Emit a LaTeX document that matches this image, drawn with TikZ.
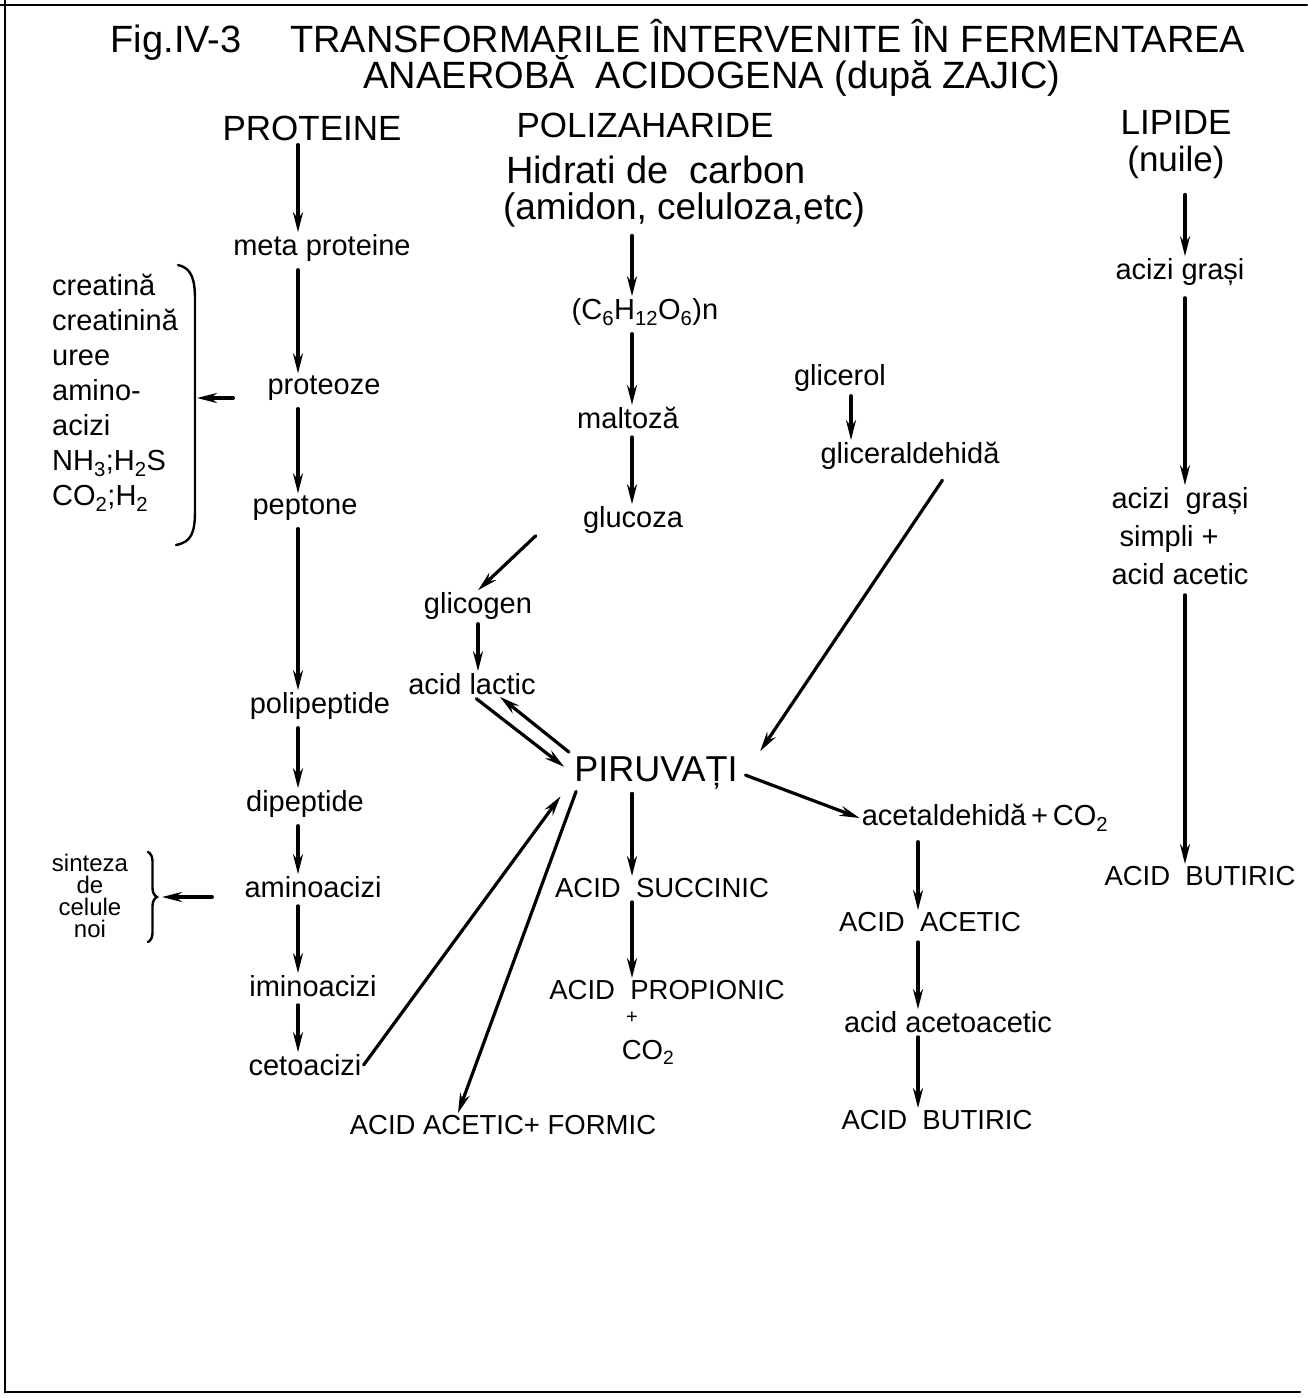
\documentclass[tikz,border=0pt]{standalone}
\usepackage{fontspec}
\setmainfont{Liberation Sans}
\usetikzlibrary{arrows.meta,positioning,decorations.pathreplacing}
\tikzstyle{ttl}=[inner sep=1pt, font=\fontsize{38}{42}\selectfont]
\tikzstyle{hd}=[inner sep=2pt, font=\fontsize{35}{40}\selectfont]
\tikzstyle{lb}=[inner sep=2pt, font=\fontsize{29}{32}\selectfont]
\tikzstyle{cp}=[inner sep=2pt, font=\fontsize{27.5}{30}\selectfont]
\tikzstyle{ar}=[-{Stealth[length=20pt,width=10pt]}, line width=3.2pt]

\begin{document}
\begin{tikzpicture}
 [x=1pt, y=-1pt, line cap=round]
 \useasboundingbox (0,0) rectangle (1307,1398);
 % frame
 \draw[line width=2.4pt] (0,5) -- (1307,5);
 \draw[line width=2.4pt] (5,0) -- (5,1392) -- (1300,1392);
 % title
 \node[ttl] (t1) at (678,40) {Fig.IV-3\quad\ TRANSFORMARILE ÎNTERVENITE ÎN FERMENTAREA};
 \node[ttl] (t2) at (712,76) {ANAEROBĂ\ \ ACIDOGENA (după ZAJIC)};
 % column heads
 \node[hd] (prot) at (312,128) {PROTEINE};
 \node[hd] (poli) at (645,125) {POLIZAHARIDE};
 \node[hd, font=\fontsize{38}{40}\selectfont] (hidr) at (656,170) {Hidrati de\ \ carbon};
 \node[hd, font=\fontsize{37}{40}\selectfont] (amid) at (684,210) {(amidon, celuloza,etc)};
 \node[hd] (lip) at (1176,122) {LIPIDE};
 \node[hd] (nuile) at (1176,162) {(nuile)};
 % column axes
 \coordinate (xp) at (298,0);
 \coordinate (xm) at (632,0);
 \coordinate (xg) at (851,0);
 \coordinate (xa) at (918,0);
 \coordinate (xl) at (1185,0);
 % proteine
 \node[lb] (meta) at (322,248) {meta proteine};
 \node[lb] (pteo) at (324,388) {proteoze};
 \node[lb] (pept) at (305,508) {peptone};
 \node[lb] (polip) at (320,706) {polipeptide};
 \node[lb] (dip) at (305,804) {dipeptide};
 \node[lb] (amac) at (313,887) {aminoacizi};
 \node[lb] (imac) at (313,986) {iminoacizi};
 \node[lb] (ceto) at (305,1065) {cetoacizi};
 \path[ar]
   (prot.south -| xp) edge[shorten <=2pt] (meta.north -| xp)
   (meta.south -| xp) edge[shorten <=6pt] (pteo.north -| xp)
   (pteo.south -| xp) edge[shorten <=6pt] (pept.north -| xp)
   (pept.south -| xp) edge[shorten <=6pt] (polip.north -| xp)
   (polip.south -| xp) edge[shorten <=6pt] (dip.north -| xp)
   (dip.south -| xp) edge[shorten <=6pt] (amac.north -| xp)
   (amac.south -| xp) edge[shorten <=6pt] (imac.north -| xp)
   (imac.south -| xp) edge[shorten <=6pt] (ceto.north -| xp);
 % side products
 \node[lb, anchor=north west, align=left, font=\fontsize{29}{35}\selectfont]
   (prod) at (50,272) {creatină\\creatinină\\uree\\amino-\\acizi\\NH\textsubscript{3};H\textsubscript{2}S\\CO\textsubscript{2};H\textsubscript{2}};
 \draw[line width=2.4pt] (178,265) .. controls (192,268) and (195,280) .. (195,300)
   -- (195,510) .. controls (195,532) and (192,542) .. (176,545);
 \coordinate (brk) at (197,398);
 \draw[ar] (pteo.west |- brk) ++(-32,0) -- (brk);
 \node[lb, align=center, font=\fontsize{24}{22}\selectfont] (sint) at (90,896) {sinteza\\de\\celule\\noi};
 \draw[line width=2.4pt, decorate, decoration={brace, amplitude=9pt}] (148,852) -- (148,942);
 \coordinate (brs) at (162,897);
 \draw[ar] (amac.west |- brs) ++(-30,0) -- (brs);
 % polizaharide
 \node[lb] (hex) at (645,312) {(C\textsubscript{6}H\textsubscript{12}O\textsubscript{6})n};
 \node[lb] (malt) at (628,418) {maltoză};
 \node[lb] (gluc) at (633,520) {glucoza};
 \node[lb] (glic) at (478,606) {glicogen};
 \node[lb] (lact) at (472,684) {acid lactic};
 \path[ar]
   (amid.south -| xm) edge[shorten <=6pt] (hex.north -| xm)
   (hex.south -| xm) edge[shorten <=6pt] (malt.north -| xm)
   (malt.south -| xm) edge[shorten <=6pt] (gluc.north -| xm)
   ([xshift=-45pt]gluc.south west) edge (glic.north)
   (glic.south) edge[shorten <=2pt] (glic.south |- lact.north);
 % piruvati
 \node[inner sep=2pt, font=\fontsize{36}{40}\selectfont] (piruv) at (656,773) {PIRUVAȚI};
 \node[cp] (form) at (503,1125) {ACID ACETIC+ FORMIC};
 \path[ar]
   ([xshift=2pt]lact.south) edge[shorten <=3pt, shorten >=10pt] (piruv.west)
   (piruv.north west) edge[shorten <=4pt] ([xshift=28pt]lact.south)
   (ceto.east) edge[shorten >=6pt] ([xshift=-8pt]piruv.south west)
   ([xshift=4pt]piruv.south west) edge ([xshift=-45pt]form.north);
 % glicerol
 \node[lb] (gol) at (840,378) {glicerol};
 \node[lb] (gald) at (910,456) {gliceraldehidă};
 \path[ar]
   (gol.south -| xg) edge[shorten <=2pt] (gald.north -| xg)
   ([xshift=38pt]gald.south) edge[shorten <=10pt, shorten >=4pt] ([xshift=18pt]piruv.north east);
 % succinic
 \node[cp] (succ) at (662,888) {ACID\ \ SUCCINIC};
 \node[cp] (prop) at (667,990) {ACID\ \ PROPIONIC};
 \node[lb, inner sep=0pt, font=\fontsize{20}{20}\selectfont] (plus) at (632,1018) {+};
 \node[cp] (co2) at (648,1052) {CO\textsubscript{2}};
 \path[ar]
   (piruv.south -| xm) edge[shorten <=2pt] (succ.north -| xm)
   (succ.south -| xm) edge[shorten <=2pt] (prop.north -| xm);
 % acetaldehida
 \node[lb] (acal) at (985,818) {acetaldehidă\,+\,CO\textsubscript{2}};
 \node[cp] (acet) at (930,922) {ACID\ \ ACETIC};
 \node[lb] (acac) at (948,1022) {acid acetoacetic};
 \node[cp] (but) at (937,1120) {ACID\ \ BUTIRIC};
 \path[ar]
   (piruv.east) edge[shorten <=6pt] (acal.west)
   (acal.south -| xa) edge[shorten <=8pt] (acet.north -| xa)
   (acet.south -| xa) edge[shorten <=8pt] (acac.north -| xa)
   (acac.south -| xa) edge[shorten <=2pt] (but.north -| xa);
 % lipide
 \node[lb] (agr) at (1180,272) {acizi grași};
 \node[lb, align=left, font=\fontsize{29}{38}\selectfont] (agrs) at (1180,536) {acizi\ \ grași\\\ simpli +\\acid acetic};
 \node[cp] (butl) at (1200,876) {ACID\ \ BUTIRIC};
 \path[ar]
   (nuile.south -| xl) edge[shorten <=14pt] (agr.north -| xl)
   (agr.south -| xl) edge[shorten <=10pt] (agrs.north -| xl)
   (agrs.south -| xl) edge[shorten <=8pt] (butl.north -| xl);
\end{tikzpicture}
\end{document}
